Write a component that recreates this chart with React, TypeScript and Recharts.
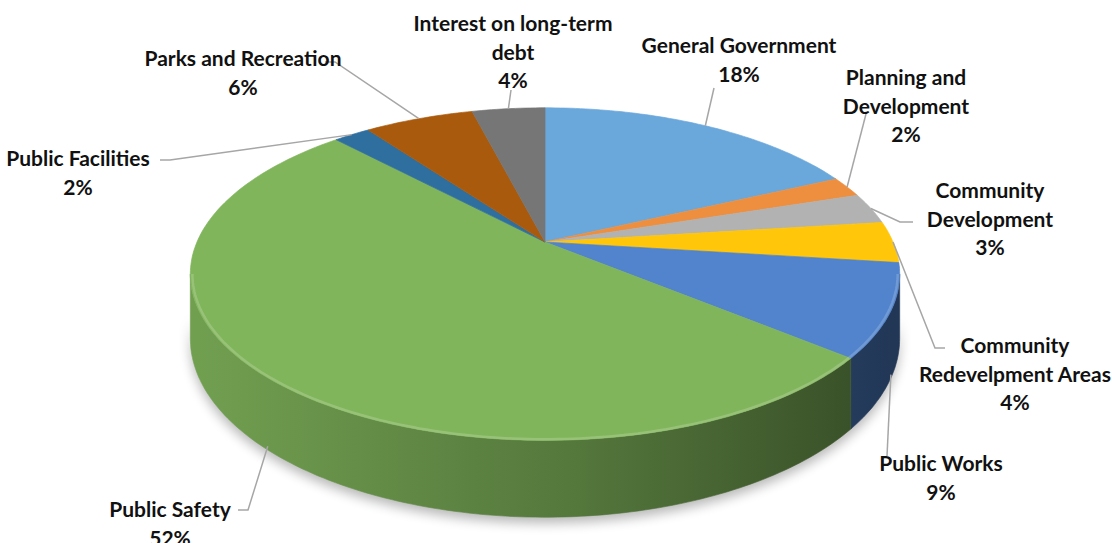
import React from 'react'
import { PieChart, Pie } from 'recharts'

const categories = [
  'General Government',
  'Planning and Development',
  'Community Development',
  'Community Redevelpment Areas',
  'Public Works',
  'Public Safety',
  'Public Facilities',
  'Parks and Recreation',
  'Interest on long-term debt',
]
const shares = [18, 2, 3, 4, 9, 52, 2, 6, 4]
const colors = ['#6aa8dc', '#ee8f40', '#b2b2b2', '#ffc60a', '#5184cc', '#80b55b', '#2e6fa0', '#aa5a0c', '#767676']

// wrapped label text, one entry per category
const labelLines = [
  ['General Government'],
  ['Planning and', 'Development'],
  ['Community', 'Development'],
  ['Community', 'Redevelpment Areas'],
  ['Public Works'],
  ['Public Safety'],
  ['Public Facilities'],
  ['Parks and Recreation'],
  ['Interest on long-term', 'debt'],
]

const data = categories.map((name, i) => ({ name, value: shares[i] }))

// label placement (text centre of first line + leader elbows), like Excel put them
const labelLayout: { x: number; y: number; via: [number, number][] }[] = [
  { x: 739, y: 44, via: [[714, 88]] },
  { x: 906, y: 76, via: [[866, 114]] },
  { x: 990, y: 189, via: [[900, 222], [913, 222]] },
  { x: 1015, y: 344, via: [[935, 348], [945, 348]] },
  { x: 941, y: 462, via: [[887, 456]] },
  { x: 170, y: 508, via: [[248, 510], [238, 510]] },
  { x: 78, y: 157, via: [[170, 160], [160, 160]] },
  { x: 243, y: 57, via: [[335, 62], [325, 62]] },
  { x: 513, y: 22, via: [[511, 90]] },
]

const W = 1112
const H = 543
const CX = 545
const CY = 242
const R = 348
const TILT = 0.46 // vertical squash of the disc
const PERSP = 0.193 // perspective foreshortening
const DEPTH = 62 // thickness of the disc
const LINE = 28.5
const DEG = Math.PI / 180
const SIL = Math.asin(PERSP) / DEG // silhouette angle of the side wall

function project(cx: number, cy: number, r: number, deg: number) {
  const s = Math.sin(deg * DEG)
  const c = Math.cos(deg * DEG)
  const d = 1 + PERSP * s
  return { x: cx + (r * c) / d, y: cy - (r * TILT * s) / d, depth: DEPTH / d }
}

function arc(cx: number, cy: number, r: number, a1: number, a2: number, drop = 0) {
  const n = Math.max(2, Math.ceil(Math.abs(a2 - a1)) + 1)
  const pts: [number, number][] = []
  for (let i = 0; i < n; i++) {
    const p = project(cx, cy, r, a1 + ((a2 - a1) * i) / (n - 1))
    pts.push([p.x, p.y + p.depth * drop])
  }
  return pts
}

const toPath = (pts: [number, number][]) =>
  pts.map((p, i) => `${i ? 'L' : 'M'}${p[0].toFixed(1)},${p[1].toFixed(1)}`).join(' ')

function shade(hex: string, f: number) {
  const n = parseInt(hex.slice(1), 16)
  const ch = [(n >> 16) & 255, (n >> 8) & 255, n & 255].map((v) =>
    Math.round(f <= 1 ? v * f : v + (255 - v) * (f - 1)),
  )
  return `rgb(${ch.join(',')})`
}

function visibleRange(a: number, b: number) {
  const lo = Math.max(Math.min(a, b), -180 + SIL)
  const hi = Math.min(Math.max(a, b), -SIL)
  return hi > lo ? [lo, hi] : null
}

const renderWall = (props: any) => {
  const { cx, cy, outerRadius, startAngle, endAngle, index } = props
  const color = colors[index]
  const id = `wall-grad-${index}`
  const range = visibleRange(startAngle, endAngle)
  let shadow = null
  if (index === 0) {
    const top = arc(cx, cy + 6, outerRadius, -180 + SIL, -SIL, 0.5)
    const bottom = arc(cx, cy + 6, outerRadius, -SIL, -180 + SIL, 1)
    shadow = <path d={toPath([...top, ...bottom]) + ' Z'} fill="#000" opacity={0.28} filter="url(#pie-shadow)" />
  }
  return (
    <g key={`wall-${index}`}>
      <defs>
        <linearGradient id={id} gradientUnits="userSpaceOnUse" x1={cx - outerRadius} x2={cx + outerRadius} y1={0} y2={0}>
          <stop offset="0%" stopColor={shade(color, 0.88)} />
          <stop offset="55%" stopColor={shade(color, 0.66)} />
          <stop offset="100%" stopColor={shade(color, 0.42)} />
        </linearGradient>
        {index === 0 && (
          <filter id="pie-shadow" x="-20%" y="-50%" width="140%" height="200%">
            <feGaussianBlur stdDeviation="6" />
          </filter>
        )}
      </defs>
      {shadow}
      {range && (
        <path
          d={toPath([...arc(cx, cy, outerRadius, range[0], range[1]), ...arc(cx, cy, outerRadius, range[1], range[0], 1)]) + ' Z'}
          fill={`url(#${id})`}
          stroke={`url(#${id})`}
          strokeWidth={0.6}
        />
      )}
    </g>
  )
}

const renderTop = (props: any) => {
  const { cx, cy, outerRadius, startAngle, endAngle, index } = props
  const color = colors[index]
  const range = visibleRange(startAngle, endAngle)
  const pts: [number, number][] = [[cx, cy], ...arc(cx, cy, outerRadius, startAngle, endAngle)]
  return (
    <g key={`top-${index}`}>
      <path d={toPath(pts) + ' Z'} fill={color} stroke={color} strokeWidth={0.7} />
      {range && (
        <path
          d={toPath(arc(cx, cy, outerRadius - 2, range[0], range[1]))}
          fill="none"
          stroke={shade(color, 1.3)}
          strokeWidth={2.5}
          opacity={0.6}
        />
      )}
    </g>
  )
}

const renderText = (props: any) => {
  const { cx, cy, outerRadius, midAngle, percent, index } = props
  const lay = labelLayout[index]
  const p = project(cx, cy, outerRadius, midAngle)
  const front = midAngle < -SIL && midAngle > -180 + SIL
  const pts: [number, number][] = [[p.x, p.y + (front ? p.depth * 0.95 : 0)], ...lay.via]
  const lines = [...labelLines[index], `${Math.round(percent * 100)}%`]
  return (
    <g key={`label-${index}`}>
      <polyline points={pts.map((q) => q.join(',')).join(' ')} fill="none" stroke="#a6a6a6" strokeWidth={1.5} />
      <text
        textAnchor="middle"
        dominantBaseline="central"
        fontFamily="Lato, 'Open Sans', sans-serif"
        fontWeight={700}
        fontSize={21}
        fill="#111"
      >
        {lines.map((t, i) => (
          <tspan key={i} x={lay.x} y={lay.y + i * LINE}>
            {t}
          </tspan>
        ))}
      </text>
    </g>
  )
}

const pieProps = {
  data,
  dataKey: 'value',
  nameKey: 'name',
  cx: CX,
  cy: CY,
  outerRadius: R,
  startAngle: 90,
  endAngle: -270,
  fill: 'transparent',
  stroke: 'none',
  labelLine: false,
  isAnimationActive: false,
}

export default function App() {
  return (
    <div style={{ position: 'fixed', left: 0, top: 0, width: W, height: H, background: '#fff' }}>
      <PieChart width={W} height={H} margin={{ top: 0, right: 0, bottom: 0, left: 0 }}>
        <Pie {...pieProps} label={renderWall} />
        <Pie {...pieProps} label={renderTop} />
        <Pie {...pieProps} label={renderText} />
      </PieChart>
    </div>
  )
}
